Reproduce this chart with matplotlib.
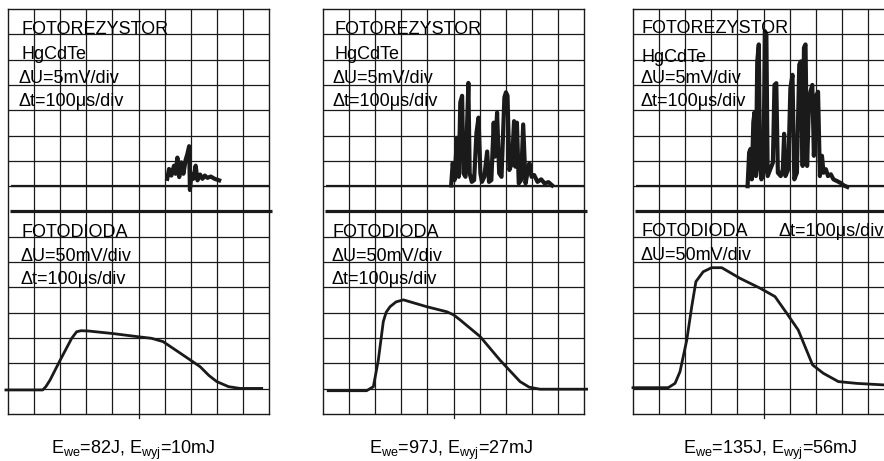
import matplotlib
matplotlib.use("Agg")
import matplotlib.pyplot as plt

plt.rcParams['font.family'] = ['Liberation Sans', 'DejaVu Sans']
plt.rcParams['mathtext.default'] = 'regular'

# grid units: x 0..10 div, y 0..16 div (upper channel baseline at 9, lower at 1)
# --- panel 1: E_we=82J
p1_top_x = [6.10, 6.17, 6.26, 6.36, 6.42, 6.49, 6.56, 6.64, 6.72, 6.81, 6.87, 6.94, 6.97, 7.03,
            7.10, 7.19, 7.26, 7.36, 7.45, 7.54, 7.64, 7.77, 7.92, 8.09]
p1_top_y = [9.29, 9.68, 9.42, 9.81, 9.49, 10.13, 9.36, 9.94, 9.49, 10.06, 10.26, 10.58, 8.85, 9.49,
            9.29, 9.81, 9.23, 9.46, 9.29, 9.42, 9.33, 9.38, 9.29, 9.23]
p1_bot_x = [-0.08, 1.33, 1.45, 1.61, 2.0, 2.44, 2.63, 2.8, 3.07, 4.0, 4.93, 5.5, 5.94, 6.59, 7.36,
            7.7, 8.0, 8.45, 8.89, 9.72]
p1_bot_y = [0.95, 0.95, 1.08, 1.34, 2.13, 2.99, 3.25, 3.29, 3.28, 3.18, 3.06, 2.99, 2.86, 2.41, 1.87,
            1.52, 1.28, 1.08, 1.01, 1.01]

# --- panel 2: E_we=97J
p2_top_x = [4.91, 4.97, 5.04, 5.13, 5.20, 5.26, 5.33, 5.38, 5.46, 5.57, 5.62, 5.70, 5.79, 5.88, 5.96,
            6.03, 6.09, 6.18, 6.29, 6.36, 6.45, 6.54, 6.59, 6.67, 6.75, 6.84, 6.95, 7.01, 7.07, 7.14,
            7.24, 7.32, 7.37, 7.43, 7.50, 7.59, 7.67, 7.76, 7.83, 7.91, 7.99, 8.09, 8.22, 8.36, 8.49,
            8.64, 8.78]
p2_top_y = [9.03, 9.91, 9.24, 10.91, 9.37, 12.31, 12.57, 9.51, 9.37, 13.08, 9.51, 9.17, 9.24, 11.11,
            11.71, 9.51, 9.17, 9.37, 10.37, 9.17, 9.24, 11.51, 10.17, 11.91, 9.51, 9.37, 12.51, 12.71,
            12.57, 9.64, 9.91, 11.57, 9.77, 11.51, 9.11, 9.24, 11.44, 9.11, 9.51, 9.91, 9.37, 9.44,
            9.17, 9.27, 9.11, 9.16, 9.03]
p2_bot_x = [0.2, 1.67, 1.93, 2.12, 2.31, 2.42, 2.57, 2.8, 3.08, 3.97, 4.74, 5.0, 5.25, 6.02, 6.78,
            7.55, 7.9, 8.31, 10.1]
p2_bot_y = [0.92, 0.92, 1.08, 2.13, 3.65, 4.02, 4.24, 4.43, 4.51, 4.24, 4.04, 3.92, 3.72, 3.06, 2.13,
            1.28, 1.06, 0.98, 0.98]

# --- panel 3: E_we=135J
p3_top_x = [4.39, 4.45, 4.50, 4.55, 4.61, 4.66, 4.71, 4.76, 4.82, 4.87, 4.92, 5.00, 5.05, 5.11, 5.16,
            5.26, 5.36, 5.42, 5.49, 5.55, 5.66, 5.74, 5.79, 5.84, 5.95, 6.03, 6.11, 6.18, 6.28, 6.37,
            6.43, 6.50, 6.55, 6.61, 6.67, 6.74, 6.80, 6.87, 6.93, 7.03, 7.09, 7.16, 7.24, 7.30, 7.39,
            7.47, 7.58, 7.68, 7.82, 7.95, 8.08, 8.21]
p3_top_y = [9.0, 10.33, 10.47, 9.27, 11.53, 11.93, 9.4, 13.93, 14.6, 9.67, 9.27, 9.53, 15.13, 15.0,
            9.4, 9.67, 9.93, 13.0, 13.07, 9.53, 9.4, 9.67, 11.07, 9.4, 9.67, 12.87, 13.4, 9.27, 9.53,
            13.8, 13.93, 9.8, 14.47, 14.6, 9.8, 12.2, 12.73, 13.0, 10.2, 12.6, 12.73, 9.4, 10.2, 9.53,
            9.67, 9.4, 9.47, 9.27, 9.2, 9.13, 9.03, 8.97]
p3_bot_x = [0.0, 1.35, 1.61, 1.8, 2.06, 2.25, 2.41, 2.69, 3.01, 3.4, 4.1, 4.87, 5.44, 5.89, 6.33, 6.88,
            7.29, 7.87, 8.57, 9.59]
p3_bot_y = [1.04, 1.04, 1.21, 1.67, 2.92, 4.24, 5.23, 5.62, 5.78, 5.78, 5.36, 4.97, 4.64, 3.98, 3.32,
            1.94, 1.61, 1.28, 1.21, 1.15]

captions = [r'E$_{we}$=82J, E$_{wyj}$=10mJ',
            r'E$_{we}$=97J, E$_{wyj}$=27mJ',
            r'E$_{we}$=135J, E$_{wyj}$=56mJ']

W, H = 884, 461
fig = plt.figure(figsize=(W / 100, H / 100), dpi=100)

lefts = [8, 323, 633]
cap_x = [133, 451, 770]
tops = [(p1_top_x, p1_top_y), (p2_top_x, p2_top_y), (p3_top_x, p3_top_y)]
bots = [(p1_bot_x, p1_bot_y), (p2_bot_x, p2_bot_y), (p3_bot_x, p3_bot_y)]
k = '#1a1a1a'
fs = 13

for i in range(3):
    ax = fig.add_axes([lefts[i] / W, (H - 414) / H, 261 / W, 405 / H])
    ax.set_xlim(0, 10)
    ax.set_ylim(0, 16)
    ax.set_xticks([])
    ax.set_yticks([])
    for s in ax.spines.values():
        s.set_linewidth(1.0)
        s.set_color(k)
    for xv in range(1, 10):
        ax.axvline(xv, color=k, lw=0.9)
    for yv in range(1, 16):
        if yv != 8:
            ax.axhline(yv, color=k, lw=0.9)
    # channel separator and upper baseline
    ax.plot([0.08, 10.1], [8, 8], color=k, lw=2.3, clip_on=False, solid_capstyle='butt')
    ax.plot([0.1, 10], [9, 9], color=k, lw=1.6, solid_capstyle='butt')
    ax.plot([5, 5], [0, -0.15], color=k, lw=0.9, clip_on=False)

    tx, ty = tops[i]
    ax.plot(tx, ty, color=k, lw=3.0, solid_joinstyle='round')
    bx, by = bots[i]
    ax.plot(bx, by, color=k, lw=2.0, clip_on=False, solid_joinstyle='round')

    if i < 2:
        xo = [0.5, 0.45][i]
        ax.text(xo, 15.0, 'FOTOREZYSTOR', fontsize=fs, va='baseline')
        ax.text(xo, 14.03, 'HgCdTe', fontsize=fs, va='baseline')
        ax.text(xo - 0.08, 13.07, 'ΔU=5mV/div', fontsize=fs, va='baseline')
        ax.text(xo - 0.08, 12.17, 'Δt=100μs/div', fontsize=fs, va='baseline')
        xo2 = [0.52, 0.35][i]
        ax.text(xo2, 7.01, 'FOTODIODA', fontsize=fs, va='baseline')
        ax.text(xo2 - 0.04, 6.05, 'ΔU=50mV/div', fontsize=fs, va='baseline')
        ax.text(xo2 - 0.04, 5.13, 'Δt=100μs/div', fontsize=fs, va='baseline')
    else:
        ax.text(0.33, 15.04, 'FOTOREZYSTOR', fontsize=fs, va='baseline')
        ax.text(0.33, 13.92, 'HgCdTe', fontsize=fs, va='baseline')
        ax.text(0.27, 13.07, 'ΔU=5mV/div', fontsize=fs, va='baseline')
        ax.text(0.27, 12.17, 'Δt=100μs/div', fontsize=fs, va='baseline')
        ax.text(0.33, 7.05, 'FOTODIODA', fontsize=fs, va='baseline')
        ax.text(5.56, 7.05, 'Δt=100μs/div', fontsize=fs, va='baseline')
        ax.text(0.27, 6.09, 'ΔU=50mV/div', fontsize=fs, va='baseline')

    fig.text(cap_x[i] / W, (H - 454) / H, captions[i], fontsize=fs, ha='center', va='baseline')

fig.savefig('out.png', dpi=100)
